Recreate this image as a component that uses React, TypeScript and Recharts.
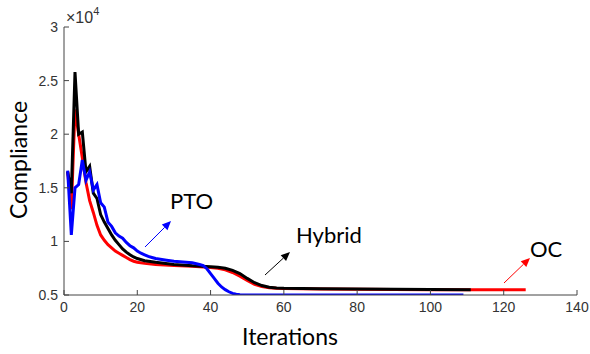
import { LineChart, Line, XAxis, YAxis } from "recharts";

// compliance values are in units of 1e4 (axis shows x10^4)
const ocIter = [1, 2, 3, 4, 5, 6, 7, 8, 9, 10, 11, 12, 13, 14, 15, 16, 17, 18, 19, 20, 22, 25, 30, 35, 38, 40, 42, 44, 46, 48, 50, 52, 54, 56, 58, 60, 70, 80, 100, 126];
const ocVal = [1.65, 1.3, 2.23, 2.0, 1.78, 1.55, 1.38, 1.27, 1.15, 1.06, 1.01, 0.97, 0.94, 0.91, 0.89, 0.87, 0.85, 0.83, 0.815, 0.805, 0.795, 0.785, 0.775, 0.768, 0.762, 0.757, 0.75, 0.735, 0.71, 0.675, 0.635, 0.6, 0.578, 0.567, 0.562, 0.56, 0.556, 0.553, 0.55, 0.55];

const hybridIter = [1, 2, 3, 4, 5, 6, 7, 8, 9, 10, 11, 12, 13, 14, 15, 16, 17, 18, 19, 20, 22, 25, 30, 35, 40, 42, 44, 46, 48, 50, 52, 54, 56, 58, 60, 70, 80, 100, 111];
const hybridVal = [1.65, 1.45, 2.58, 2.0, 2.02, 1.65, 1.7, 1.45, 1.4, 1.25, 1.18, 1.12, 1.06, 1.01, 0.97, 0.93, 0.9, 0.875, 0.855, 0.84, 0.82, 0.805, 0.785, 0.772, 0.763, 0.758, 0.75, 0.73, 0.7, 0.655, 0.615, 0.588, 0.573, 0.566, 0.563, 0.558, 0.555, 0.552, 0.55];

const ptoIter = [1, 2, 3, 4, 5, 6, 7, 8, 9, 10, 11, 12, 13, 14, 15, 16, 17, 18, 19, 20, 21, 22, 23, 24, 25, 28, 30, 35, 37, 38, 39, 40, 41, 42, 43, 44, 45, 46, 47, 48, 50, 109];
const ptoVal = [1.66, 1.06, 1.5, 1.53, 1.76, 1.57, 1.65, 1.48, 1.53, 1.36, 1.32, 1.18, 1.14, 1.08, 1.05, 1.03, 0.99, 0.96, 0.94, 0.91, 0.89, 0.875, 0.86, 0.85, 0.84, 0.825, 0.815, 0.8, 0.785, 0.775, 0.745, 0.7, 0.655, 0.61, 0.575, 0.55, 0.53, 0.515, 0.508, 0.503, 0.5, 0.5];

const xTicks = [0, 20, 40, 60, 80, 100, 120, 140];
const yTicks = [0.5, 1, 1.5, 2, 2.5, 3];

const toRows = (it: number[], v: number[]) => it.map((x, i) => ({ x, y: v[i] }));

const ocData = toRows(ocIter, ocVal);
const hybridData = toRows(hybridIter, hybridVal);
const ptoData = toRows(ptoIter, ptoVal);

const labelFont = "Lato, 'Open Sans', sans-serif";
const tickStyle = { fontFamily: "'Liberation Sans', Arial, sans-serif", fontSize: 14, fill: "#333" };

function Arrow({ x1, y1, x2, y2, color }: { x1: number; y1: number; x2: number; y2: number; color: string }) {
  const ang = Math.atan2(y2 - y1, x2 - x1);
  const len = 9;
  const w = 4;
  const bx = x2 - len * Math.cos(ang);
  const by = y2 - len * Math.sin(ang);
  const px = -Math.sin(ang) * w;
  const py = Math.cos(ang) * w;
  return (
    <g>
      <line x1={x1} y1={y1} x2={bx} y2={by} stroke={color} strokeWidth={1} />
      <polygon points={`${x2},${y2} ${bx + px},${by + py} ${bx - px},${by - py}`} fill={color} />
    </g>
  );
}

export default function App() {
  return (
    <div style={{ position: "absolute", left: 0, top: 0, width: 590, height: 354, background: "#fff" }}>
      <LineChart width={590} height={354} margin={{ top: 27, right: 13, bottom: 29, left: 24 }}>
        <XAxis
          type="number"
          dataKey="x"
          domain={[0, 140]}
          ticks={xTicks}
          allowDataOverflow
          height={30}
          tickSize={-5}
          tickMargin={12}
          tick={tickStyle}
          stroke="#444"
        />
        <YAxis
          type="number"
          dataKey="y"
          domain={[0.5, 3]}
          ticks={yTicks}
          allowDataOverflow
          width={40}
          tickSize={-5}
          tickMargin={11}
          tick={tickStyle}
          stroke="#444"
        />
        <Line data={ocData} dataKey="y" type="linear" stroke="#ff0000" strokeWidth={3} dot={false} isAnimationActive={false} />
        <Line data={hybridData} dataKey="y" type="linear" stroke="#000000" strokeWidth={3} dot={false} isAnimationActive={false} />
        <Line data={ptoData} dataKey="y" type="linear" stroke="#0000ff" strokeWidth={3} dot={false} isAnimationActive={false} />
      </LineChart>
      <svg width={590} height={354} style={{ position: "absolute", left: 0, top: 0, pointerEvents: "none" }}>
        <text x={66} y={23} fontFamily="'Liberation Sans', Arial, sans-serif" fontSize={16} fill="#333">
          ×10
          <tspan dy={-8} fontSize={11}>4</tspan>
        </text>
        <text x={27} y={160} transform="rotate(-90 27 160)" textAnchor="middle" fontFamily={labelFont} fontSize={23} fill="#000">
          Compliance
        </text>
        <text x={290} y={345} textAnchor="middle" fontFamily={labelFont} fontSize={23} fill="#000">
          Iterations
        </text>
        <text x={170} y={209} fontFamily={labelFont} fontSize={22} fill="#000">PTO</text>
        <text x={296} y={243} fontFamily={labelFont} fontSize={22} fill="#000">Hybrid</text>
        <text x={530} y={257} fontFamily={labelFont} fontSize={22} fill="#000">OC</text>
        <Arrow x1={145} y1={247} x2={171} y2={221} color="#0000ff" />
        <Arrow x1={265} y1={275} x2={290} y2={252} color="#000" />
        <Arrow x1={504} y1={283} x2={530} y2={258} color="#ff0000" />
      </svg>
    </div>
  );
}
